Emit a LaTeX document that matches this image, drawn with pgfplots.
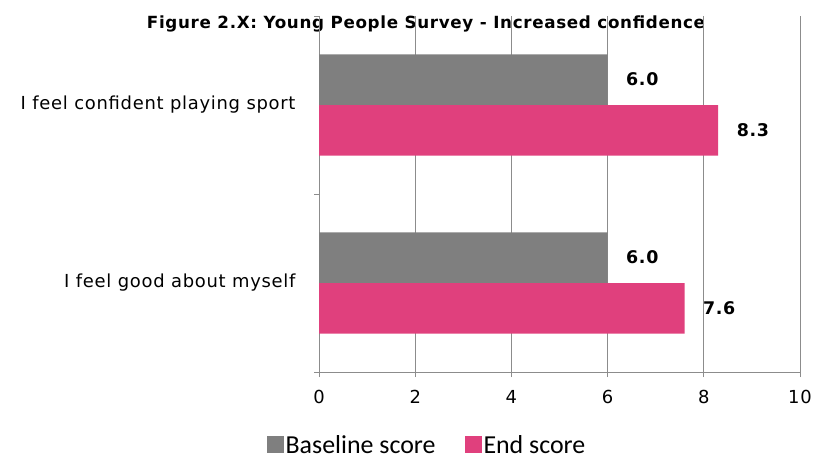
\documentclass[border=0pt]{standalone}
\usepackage{pgfplots}
\pgfplotsset{compat=1.18}
\usepackage{fontspec}
\setmainfont{DejaVu Sans}[LetterSpace=4]
\newfontfamily\legfont{Carlito}
\definecolor{basegray}{RGB}{127,127,127}
\definecolor{endpink}{RGB}{224,64,125}
\definecolor{gridgray}{RGB}{140,140,140}
\begin{document}
\begin{tikzpicture}[x=1bp,y=1bp]
\useasboundingbox (0,0) rectangle (818,-459);
\node[font=\bfseries\fontsize{16.8}{18}\selectfont] at (426,-24) {Figure 2.X: Young People Survey - Increased confidence};
\begin{axis}[
  at={(319bp,-16bp)}, anchor=north west,
  scale only axis, width=481bp, height=356bp,
  xbar, y dir=reverse,
  xmin=0, xmax=10, ymin=-0.5, ymax=1.5,
  xtick={0,2,4,6,8,10},
  ytick={-0.5,0.5,1.5}, yticklabels={},
  extra y ticks={0,1},
  extra y tick labels={I feel confident playing sport, I feel good about myself},
  extra y tick style={major tick length=0pt, yticklabel style={xshift=-20bp}},
  axis x line*=bottom, axis y line*=left,
  axis line style={gridgray, -},
  tick style={gridgray, line width=0.8pt},
  major tick length=5bp,
  tick align=outside,
  xmajorgrids, grid style={gridgray, line width=0.9pt},
  ticklabel style={font=\fontsize{18}{19}\selectfont},
  /pgf/number format/assume math mode=true,
  xticklabel style={yshift=-10bp},
  bar width=0.285,
  legend columns=2,
  legend style={at={(0.2245,-0.207)}, anchor=center, draw=none, inner sep=0pt,
    font=\legfont\fontsize{26}{27}\selectfont,
    nodes={inner sep=1.5bp},
    /tikz/every even column/.append style={column sep=28bp}},
  legend image code/.code={\fill[#1] (0bp,-7bp) rectangle (17bp,10bp);},
  nodes near coords={\pgfmathprintnumber[fixed,fixed zerofill,precision=1,assume math mode=true]{\pgfplotspointmeta}},
  every node near coord/.append style={font=\bfseries\fontsize{17.5}{19}\selectfont, anchor=west, xshift=15bp, black},
]
\addplot[fill=basegray, draw=none, bar shift=-0.1425] coordinates {(6.0,0) (6.0,1)};
\addplot[fill=endpink, draw=none, bar shift=0.1425] coordinates {(8.3,0) (7.6,1)};
\legend{Baseline score, End score}
\end{axis}
\end{tikzpicture}
\end{document}
